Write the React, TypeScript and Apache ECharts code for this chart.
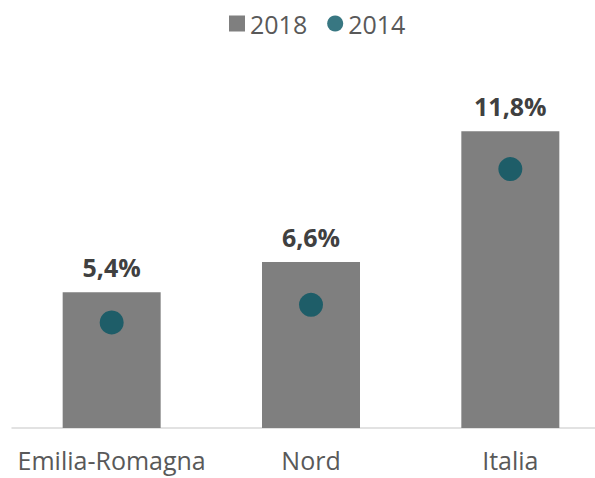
import React, { useEffect, useRef } from "react";
import * as echarts from "echarts";

const categories = ["Emilia-Romagna", "Nord", "Italia"];
const values2018 = [5.4, 6.6, 11.8];
const values2014 = [4.2, 4.9, 10.3];
const seriesNames = ["2018", "2014"];

export default function App() {
  const ref = useRef<HTMLDivElement>(null);
  useEffect(() => {
    document.body.style.margin = "0";
    const chart = echarts.init(ref.current!, null, { renderer: "svg" });
    const font = "'Open Sans', sans-serif";
    chart.setOption({
      animation: false,
      backgroundColor: "#ffffff",
      legend: {
        top: 6,
        left: 224,
        itemWidth: 16,
        itemHeight: 16,
        itemGap: 20,
        textStyle: { fontFamily: font, fontSize: 25, color: "#595959" },
        data: [
          { name: seriesNames[0], icon: "rect" },
          { name: seriesNames[1], icon: "circle" },
        ],
      },
      grid: { left: 12, right: 5, top: 76, bottom: 50, containLabel: false },
      xAxis: {
        type: "category",
        data: categories,
        axisLine: { lineStyle: { color: "#d9d9d9", width: 1.5 } },
        axisTick: { show: false },
        axisLabel: { interval: 0, fontFamily: font, fontSize: 25, color: "#595959", margin: 19 },
      },
      yAxis: {
        type: "value",
        min: 0,
        max: 14,
        show: false,
        splitLine: { show: false },
      },
      series: [
        {
          name: seriesNames[0],
          type: "bar",
          data: values2018,
          barWidth: 98,
          itemStyle: { color: "#7f7f7f" },
          label: {
            show: true,
            position: "top",
            distance: 13,
            fontFamily: font,
            fontSize: 25,
            fontWeight: "bold",
            color: "#404040",
            formatter: (p: any) => p.value.toFixed(1).replace(".", ",") + "%",
          },
        },
        {
          name: seriesNames[1],
          type: "scatter",
          data: values2014,
          symbol: "circle",
          symbolSize: 24,
          itemStyle: { color: "#065563" },
          z: 5,
        },
      ],
    });
    return () => chart.dispose();
  }, []);
  return (
    <div style={{ width: 595, height: 478, overflow: "hidden" }}>
      <div ref={ref} style={{ width: 615, height: 478 }} />
    </div>
  );
}
